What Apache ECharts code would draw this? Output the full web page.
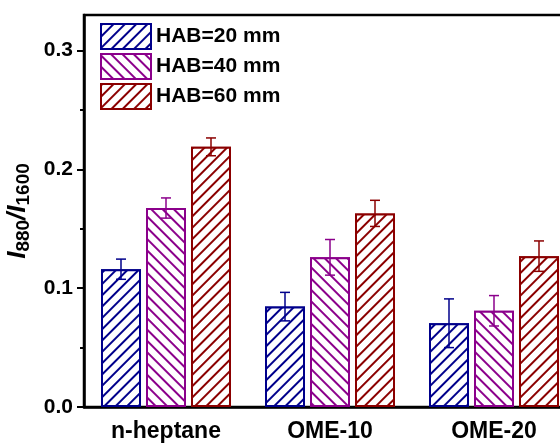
<!DOCTYPE html>
<html>
<head>
<meta charset="utf-8">
<script src="https://cdn.jsdelivr.net/npm/echarts@6/dist/echarts.min.js"></script>
<style>
  html, body { margin: 0; padding: 0; background: #fff; }
  #chart { width: 560px; height: 444px; }
</style>
</head>
<body>
<div id="chart"></div>
<script>
// data
var categories = ["n-heptane", "OME-10", "OME-20"];
var seriesNames = ["HAB=20 mm", "HAB=40 mm", "HAB=60 mm"];
var hab20 = [0.116, 0.0845, 0.0705];
var hab40 = [0.1675, 0.126, 0.081];
var hab60 = [0.219, 0.163, 0.127];
var hab20Err = [0.0085, 0.012, 0.0205];
var hab40Err = [0.0085, 0.015, 0.0128];
var hab60Err = [0.0075, 0.011, 0.0128];
var yTicks = [0, 0.1, 0.2, 0.3];
var yMinorTicks = [0.05, 0.15, 0.25];

var colors = ["#00008B", "#8B008B", "#8B0000"];
var values = [hab20, hab40, hab60];
var errs = [hab20Err, hab40Err, hab60Err];
var barW = 40, barStep = 45;
var font = "Liberation Sans, Arial, sans-serif";

var chart = echarts.init(document.getElementById("chart"));

function decal(color, dir) {
  return {
    symbol: "rect",
    symbolSize: 1,
    color: color,
    backgroundColor: "#fff",
    dashArrayX: [1, 0],
    dashArrayY: [2, 6],
    rotation: dir * Math.PI / 4
  };
}

var series = [];
values.forEach(function (v, i) {
  series.push({
    name: seriesNames[i],
    type: "bar",
    barWidth: barW,
    barGap: "12.5%",
    data: v,
    itemStyle: {
      color: "#fff",
      borderColor: colors[i],
      borderWidth: 2,
      decal: decal(colors[i], i === 1 ? 1 : -1)
    },
    emphasis: { disabled: true },
    z: 2
  });
});

values.forEach(function (v, i) {
  var d = v.map(function (y, k) { return [k, y - errs[i][k], y + errs[i][k]]; });
  series.push({
    type: "custom",
    name: "err" + i,
    data: d,
    z: 3,
    renderItem: function (params, api) {
      var lo = api.coord([api.value(0), api.value(1)]);
      var hi = api.coord([api.value(0), api.value(2)]);
      var x = lo[0] + (i - 1) * barStep;
      var cap = 5;
      var st = { stroke: colors[i], lineWidth: 1.5 };
      return {
        type: "group",
        children: [
          { type: "line", shape: { x1: x, y1: lo[1], x2: x, y2: hi[1] }, style: st },
          { type: "line", shape: { x1: x - cap, y1: hi[1], x2: x + cap, y2: hi[1] }, style: st },
          { type: "line", shape: { x1: x - cap, y1: lo[1], x2: x + cap, y2: lo[1] }, style: st }
        ]
      };
    }
  });
});

var option = {
  animation: false,
  grid: {
    left: 84, top: 15, width: 492, bottom: 37,
    outerBoundsMode: "none",
    containLabel: false,
    show: true, borderColor: "#000", borderWidth: 2.5, backgroundColor: "transparent"
  },
  legend: {
    data: seriesNames,
    icon: "rect",
    orient: "vertical",
    left: 95, top: 18,
    itemWidth: 50, itemHeight: 25, itemGap: 3,
    textStyle: { fontFamily: font, fontWeight: "bold", fontSize: 21, color: "#000" }
  },
  xAxis: [
    {
      type: "category",
      data: categories,
      axisLine: { lineStyle: { color: "#000", width: 2.5 } },
      axisTick: { alignWithLabel: true, length: 7, lineStyle: { color: "#000", width: 2 } },
      axisLabel: { fontFamily: font, fontWeight: "bold", fontSize: 23, color: "#000", margin: 13 }
    },
    {
      type: "category",
      data: categories,
      position: "bottom",
      axisLine: { show: false },
      axisTick: { length: 4, lineStyle: { color: "#000", width: 2 } },
      axisLabel: { show: false }
    }
  ],
  yAxis: [
    {
      type: "value",
      min: 0, max: 0.33,
      splitLine: { show: false },
      axisLine: { show: true, lineStyle: { color: "#000", width: 2.5 } },
      axisTick: { show: true, length: 7, customValues: yTicks, lineStyle: { color: "#000", width: 2 } },
      axisLabel: {
        customValues: yTicks,
        fontFamily: font, fontWeight: "bold", fontSize: 21, color: "#000", margin: 11,
        formatter: function (v) { return v.toFixed(1); }
      },
      name: "{i|I}{s|880}{i|/I}{s|1600}",
      nameLocation: "middle",
      nameRotate: 90,
      nameGap: 42,
      nameTextStyle: {
        rich: {
          i: { fontFamily: font, fontWeight: "bold", fontStyle: "italic", fontSize: 26, color: "#000" },
          s: { fontFamily: font, fontWeight: "bold", fontSize: 19, color: "#000", padding: [11, 0, 0, 0] }
        }
      }
    },
    {
      type: "value",
      min: 0, max: 0.33,
      position: "left",
      splitLine: { show: false },
      axisLine: { show: false },
      axisTick: { show: true, length: 4, customValues: yMinorTicks, lineStyle: { color: "#000", width: 2 } },
      axisLabel: { show: false }
    }
  ],
  series: series
};

chart.setOption(option);
</script>
</body>
</html>
